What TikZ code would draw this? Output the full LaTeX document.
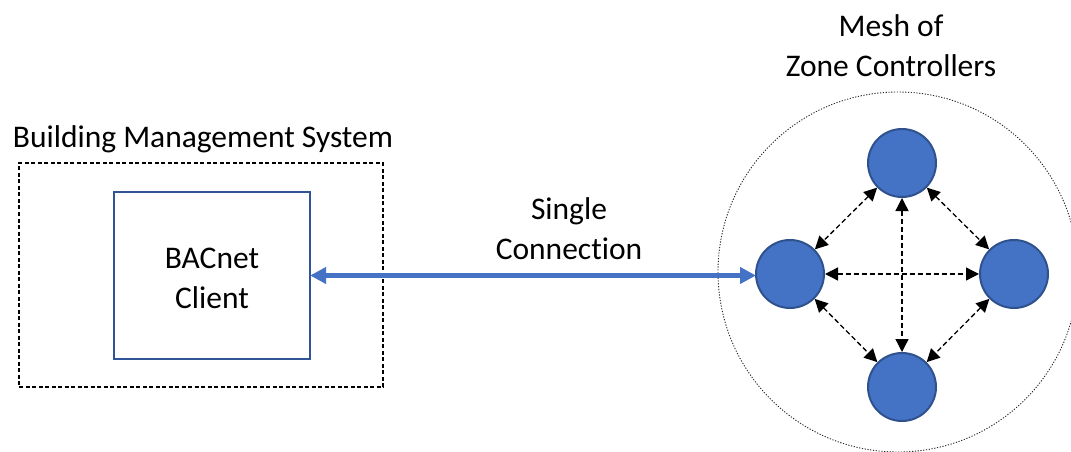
\documentclass[tikz,border=0pt]{standalone}
\usepackage{fontspec}
\setmainfont{Carlito}[Ligatures=NoCommon]
\usetikzlibrary{arrows.meta}
\definecolor{zonefill}{HTML}{4472C4}
\definecolor{zoneedge}{HTML}{2F528F}
\definecolor{boxedge}{HTML}{2F5597}
\tikzset{
  label text/.style={font=\fontsize{31.5}{40}\selectfont, align=center, inner sep=0pt},
  zone/.style={circle, draw=zoneedge, line width=2pt, fill=zonefill, minimum size=68pt, inner sep=0pt},
  client box/.style={draw=boxedge, line width=2.2pt, minimum width=196pt, minimum height=167pt, inner sep=0pt},
  link/.style={draw=zonefill, line width=5pt, {Triangle[length=16pt,width=16pt]}-{Triangle[length=16pt,width=16pt]}, shorten <=-1pt, shorten >=-1pt},
  mesh link/.style={black, line width=1.3pt, dash pattern=on 5pt off 3pt, {Triangle[length=13pt,width=13pt]}-{Triangle[length=13pt,width=13pt]}},
  group box/.style={draw=black, line width=1.1pt, dash pattern=on 4pt off 2.5pt},
  mesh ring/.style={circle, draw=black!85, line width=0.9pt, dash pattern=on 1.2pt off 1.6pt, minimum size=360pt, inner sep=0pt}
}
\begin{document}
\begin{tikzpicture}[x=1pt, y=-1pt]
  \useasboundingbox (0,0) rectangle (1071,452);
  \clip (0,0) rectangle (1071,452);

  % building management system
  \node[group box, minimum width=364pt, minimum height=224pt, inner sep=0pt] (bms) at (201,275) {};
  \node[label text, anchor=base] (bmslabel) at (203,147) {Building Management System};
  \node[client box] (client) at (212,275.5) {};
  \node[label text] (clientlabel) at (212,278) {BACnet\\Client};

  % mesh of zone controllers
  \node[mesh ring] (ring) at (898,272) {};
  \node[label text] (meshlabel) at (891,46) {Mesh of\\Zone Controllers};
  \node[zone] (top) at (902,163) {};
  \node[zone] (left) at (790,274) {};
  \node[zone] (right) at (1014,274) {};
  \node[zone] (bottom) at (902,387) {};

  \draw[mesh link] (top) -- (left);
  \draw[mesh link] (top) -- (right);
  \draw[mesh link] (left) -- (bottom);
  \draw[mesh link] (right) -- (bottom);
  \draw[mesh link] (left) -- (right);
  \draw[mesh link] (top) -- (bottom);

  % single connection
  \draw[link] (client.east) -- (client.east -| left.west);
  \node[label text] (linklabel) at (569,229) {Single\\Connection};
\end{tikzpicture}
\end{document}
